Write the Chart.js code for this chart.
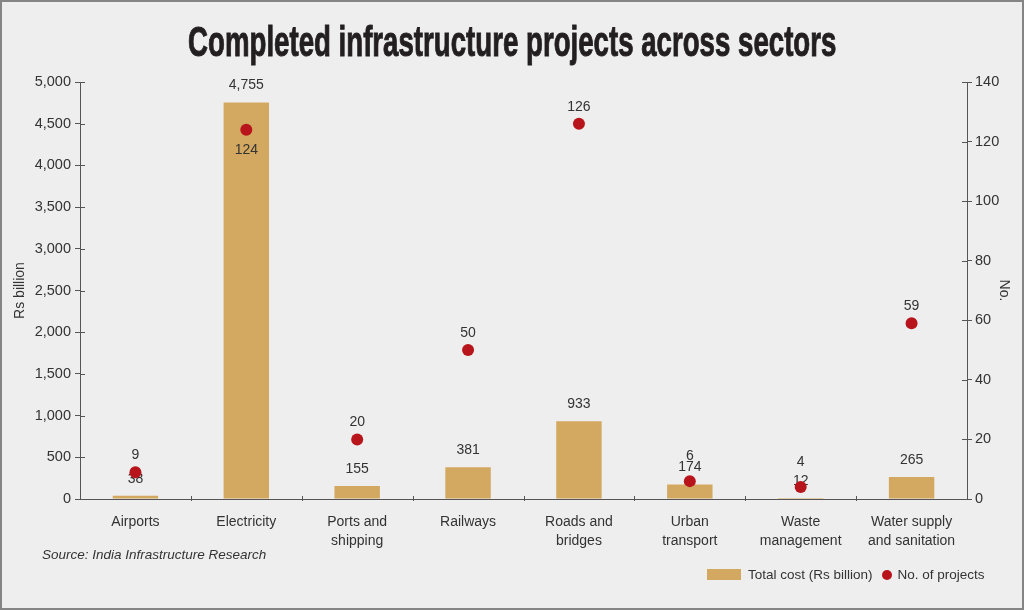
<!DOCTYPE html>
<html>
<head>
<meta charset="utf-8">
<title>Completed infrastructure projects across sectors</title>
<script src="https://cdn.jsdelivr.net/npm/chart.js@4.4.1/dist/chart.umd.min.js"></script>
<style>
    html, body { margin: 0; padding: 0; background: #eeeeee; }
    #wrap { position: relative; width: 1024px; height: 610px; overflow: hidden; background: #eeeeee; }
    #frame { position: absolute; inset: 0; border: 2px solid #858585; pointer-events: none; }
    #title {
        position: absolute; top: 17px; left: 0; width: 1024px; text-align: center;
    }
    #title span {
        display: inline-block; font-family: "Liberation Sans", sans-serif; font-weight: bold;
        font-size: 43px; color: #231f20; -webkit-text-stroke: 1px #231f20; transform-origin: center;
        white-space: nowrap;
    }
    #source {
        position: absolute; left: 42px; top: 547px; font-family: "Liberation Sans", sans-serif;
        font-style: italic; font-size: 13.5px; color: #333;
    }
    #legend {
        position: absolute; left: 707px; top: 567px; font-family: "Liberation Sans", sans-serif;
        font-size: 13.5px; color: #333; display: flex; align-items: center; white-space: nowrap;
    }
    #legend .swatch { width: 34px; height: 11px; background: #d3a961; margin-right: 7px; }
    #legend .dot { width: 10px; height: 10px; border-radius: 50%; background: #b8141c; margin: 0 6px 0 9px; }
    #chart { position: absolute; left: 0; top: 0; }
</style>
</head>
<body>
<div id="wrap">
    <canvas id="chart"></canvas>
    <div id="title"><span>Completed infrastructure projects across sectors</span></div>
    <div id="source">Source: India Infrastructure Research</div>
    <div id="legend"><div class="swatch"></div>Total cost (Rs billion)<div class="dot"></div>No. of projects</div>
    <div id="frame"></div>
</div>
<script>
// Data
const categories = [
    ['Airports'], ['Electricity'], ['Ports and', 'shipping'], ['Railways'],
    ['Roads and', 'bridges'], ['Urban', 'transport'], ['Waste', 'management'], ['Water supply', 'and sanitation']
];
const totalCost = [38, 4755, 155, 381, 933, 174, 12, 265];
const projectCount = [9, 124, 20, 50, 126, 6, 4, 59];
const costTicks = [0, 500, 1000, 1500, 2000, 2500, 3000, 3500, 4000, 4500, 5000];
const countTicks = [0, 20, 40, 60, 80, 100, 120, 140];

const BAR_COLOR = '#d3a961';
const DOT_COLOR = '#b8141c';
const TEXT_COLOR = '#333333';
const AXIS_COLOR = '#555555';
const FONT = '"Liberation Sans", Arial, sans-serif';

document.addEventListener('DOMContentLoaded', function() {
    // squeeze the heavy title into the width it has in the picture
    const titleSpan = document.querySelector('#title span');
    titleSpan.style.transform = 'scaleX(' + (648 / titleSpan.offsetWidth) + ')';

    const canvas = document.getElementById('chart');
    canvas.width = 1024;
    canvas.height = 610;

    /**
     * Value labels: bar labels after the bars, dot labels after the dots,
     * so the dots sit on top of the bar numbers like in the original.
     */
    const valueLabels = {
        id: 'valueLabels',
        afterDatasetDraw(chart, args) {
            const ctx = chart.ctx;
            const barMeta = chart.getDatasetMeta(0);
            ctx.save();
            ctx.font = '14px ' + FONT;
            ctx.fillStyle = TEXT_COLOR;
            ctx.textAlign = 'center';
            ctx.textBaseline = 'middle';
            args.meta.data.forEach((el, i) => {
                const value = chart.data.datasets[args.index].data[i];
                const text = value.toLocaleString('en-US');
                if (args.index === 0) {
                    ctx.fillText(text, el.x, el.y - 17);
                    return;
                }
                const bar = barMeta.data[i];
                let ly = el.y - 17;
                if (bar.y < el.y - 10) {
                    // dot inside its bar -> number goes below the dot
                    ly = el.y + 20;
                } else if (Math.abs(ly - (bar.y - 17)) < 12) {
                    // keep clear of the bar's own number
                    ly = el.y - 25;
                }
                ctx.fillText(text, el.x, ly);
            });
            ctx.restore();
        }
    };

    // tick marks that cross the axis line on both sides
    const crossTicks = {
        id: 'crossTicks',
        afterDraw(chart) {
            const ctx = chart.ctx;
            const { y, y1, x } = chart.scales;
            ctx.save();
            ctx.strokeStyle = AXIS_COLOR;
            ctx.lineWidth = 1;
            ctx.beginPath();
            y.ticks.forEach(t => {
                const py = Math.round(y.getPixelForValue(t.value)) + 0.5;
                ctx.moveTo(y.right, py);
                ctx.lineTo(y.right + 5, py);
            });
            y1.ticks.forEach(t => {
                const py = Math.round(y1.getPixelForValue(t.value)) + 0.5;
                ctx.moveTo(y1.left - 5, py);
                ctx.lineTo(y1.left, py);
            });
            const step = x.width / categories.length;
            for (let i = 1; i < categories.length; i++) {
                const px = Math.round(x.left + i * step) + 0.5;
                ctx.moveTo(px, x.top - 3);
                ctx.lineTo(px, x.top + 2);
            }
            ctx.stroke();
            ctx.restore();
        }
    };

    new Chart(canvas.getContext('2d'), {
        type: 'bar',
        data: {
            labels: categories,
            datasets: [
                {
                    label: 'Total cost (Rs billion)',
                    data: totalCost,
                    backgroundColor: BAR_COLOR,
                    borderWidth: 0,
                    barPercentage: 0.41,
                    categoryPercentage: 1,
                    yAxisID: 'y',
                    order: 1
                },
                {
                    type: 'line',
                    label: 'No. of projects',
                    data: projectCount,
                    showLine: false,
                    pointRadius: 6,
                    pointHoverRadius: 6,
                    pointBackgroundColor: DOT_COLOR,
                    pointBorderWidth: 0,
                    borderColor: DOT_COLOR,
                    yAxisID: 'y1',
                    order: 0
                }
            ]
        },
        options: {
            responsive: false,
            animation: false,
            layout: { padding: { top: 82, left: 0, right: 0, bottom: 0 } },
            plugins: {
                legend: { display: false },
                title: { display: false },
                tooltip: { enabled: false }
            },
            scales: {
                x: {
                    border: { display: true, color: AXIS_COLOR, width: 1 },
                    grid: { display: false },
                    ticks: {
                        color: TEXT_COLOR,
                        font: { family: FONT, size: 14, lineHeight: 1.36 },
                        padding: 6,
                        maxRotation: 0,
                        autoSkip: false
                    },
                    afterFit(scale) { scale.height = 111; }
                },
                y: {
                    position: 'left',
                    min: 0,
                    max: 5000,
                    afterBuildTicks(scale) { scale.ticks = costTicks.map(v => ({ value: v })); },
                    border: { display: true, color: AXIS_COLOR, width: 1 },
                    grid: { drawOnChartArea: false, drawTicks: true, tickLength: 5, color: AXIS_COLOR },
                    ticks: {
                        color: TEXT_COLOR,
                        font: { family: FONT, size: 14.5 },
                        padding: 4
                    },
                    title: {
                        display: true,
                        text: 'Rs billion',
                        color: TEXT_COLOR,
                        font: { family: FONT, size: 14 },
                        padding: { top: 12, bottom: 0 }
                    },
                    afterFit(scale) { scale.width = 80; }
                },
                y1: {
                    position: 'right',
                    min: 0,
                    max: 140,
                    afterBuildTicks(scale) { scale.ticks = countTicks.map(v => ({ value: v })); },
                    border: { display: true, color: AXIS_COLOR, width: 1 },
                    grid: { drawOnChartArea: false, drawTicks: true, tickLength: 5, color: AXIS_COLOR },
                    ticks: {
                        color: TEXT_COLOR,
                        font: { family: FONT, size: 14.5 },
                        padding: 3
                    },
                    title: {
                        display: true,
                        text: 'No.',
                        color: TEXT_COLOR,
                        font: { family: FONT, size: 14 },
                        padding: { top: 12, bottom: 0 }
                    },
                    afterFit(scale) { scale.width = 57; }
                }
            }
        },
        plugins: [valueLabels, crossTicks]
    });
});
</script>
</body>
</html>
